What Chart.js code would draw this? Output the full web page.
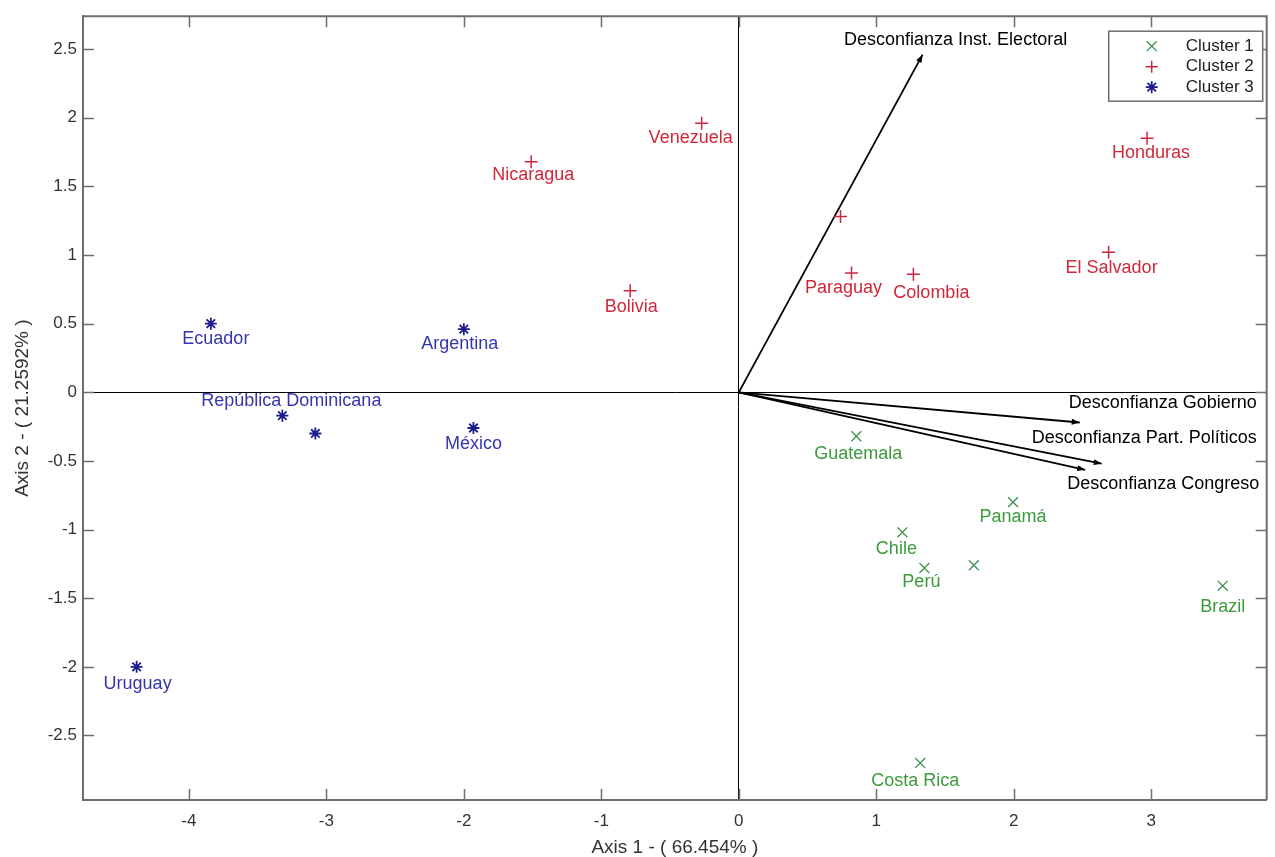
<!DOCTYPE html>
<html>
<head>
<meta charset="utf-8">
<title>Biplot clusters</title>
<script src="https://cdn.jsdelivr.net/npm/chart.js@4.4.1/dist/chart.umd.min.js"></script>
<style>
  html, body { margin: 0; padding: 0; background: #fff; }
  canvas { display: block; }
</style>
</head>
<body>
<canvas id="biplot" width="1275" height="857"></canvas>
<script>
// cluster 1 (green x)
const cluster1Names = ['Guatemala', 'Panamá', 'Chile', 'Perú', '', 'Brazil', 'Costa Rica'];
const cluster1X = [0.855, 1.995, 1.19, 1.35, 1.71, 3.52, 1.32];
const cluster1Y = [-0.32, -0.80, -1.02, -1.28, -1.26, -1.41, -2.70];

// cluster 2 (red +)
const cluster2Names = ['Venezuela', 'Nicaragua', 'Bolivia', '', 'Paraguay', 'Colombia', 'Honduras', 'El Salvador'];
const cluster2X = [-0.27, -1.51, -0.79, 0.74, 0.82, 1.27, 2.97, 2.69];
const cluster2Y = [1.96, 1.68, 0.74, 1.28, 0.87, 0.86, 1.85, 1.02];

// cluster 3 (blue *)
const cluster3Names = ['Ecuador', 'Argentina', 'República Dominicana', '', 'México', 'Uruguay'];
const cluster3X = [-3.84, -2.00, -3.32, -3.08, -1.93, -4.38];
const cluster3Y = [0.50, 0.46, -0.17, -0.30, -0.26, -2.00];

// variable vectors
const varNames = ['Desconfianza Inst. Electoral', 'Desconfianza Gobierno', 'Desconfianza Part. Políticos', 'Desconfianza Congreso'];
const varX = [1.337, 2.48, 2.64, 2.52];
const varY = [2.46, -0.22, -0.52, -0.565];

const xTicks = [-4, -3, -2, -1, 0, 1, 2, 3];
const yTicks = [-2.5, -2, -1.5, -1, -0.5, 0, 0.5, 1, 1.5, 2, 2.5];
const xRange = [-4.77, 3.84];
const yRange = [-2.97, 2.74];

const clusterNames = ['Cluster 1', 'Cluster 2', 'Cluster 3'];

// label placement (pixel shift from the marker)
const labelShift = {
    'Guatemala': [2, 18], 'Panamá': [0, 15], 'Chile': [-6, 17], 'Perú': [-3, 14],
    'Brazil': [0, 21], 'Costa Rica': [-5, 18],
    'Venezuela': [-11, 15], 'Nicaragua': [2, 13], 'Bolivia': [1, 16], 'Paraguay': [-8, 15],
    'Colombia': [18, 19], 'Honduras': [4, 15], 'El Salvador': [3, 16],
    'Ecuador': [5, 15], 'Argentina': [-4, 15], 'República Dominicana': [9, -15],
    'México': [0, 16], 'Uruguay': [1, 17]
};
const varShift = [[33, -15, 'center'], [-11, -19, 'left'], [-70, -26, 'left'], [-18, 14, 'left']];

const FONT = '"Liberation Sans", Arial, sans-serif';
const markerColors = ['#3f8f50', '#c8283c', '#1c1c8c'];
const textColors = ['#3c9a3c', '#d02838', '#3535b0'];
const markerStyles = ['crossRot', 'cross', 'star'];
const markerWidths = [1.3, 1.5, 1.8];
const AXIS_GRAY = '#6e6e6e';

function toPoints(xs, ys) {
    return xs.map((x, i) => ({ x: x, y: ys[i] }));
}

const clusterSets = [
    { names: cluster1Names, pts: toPoints(cluster1X, cluster1Y), radius: 7 },
    { names: cluster2Names, pts: toPoints(cluster2X, cluster2Y), radius: 6.5 },
    { names: cluster3Names, pts: toPoints(cluster3X, cluster3Y), radius: 6 }
];

const datasets = clusterSets.map((c, i) => ({
    label: clusterNames[i],
    data: c.pts,
    pointStyle: markerStyles[i],
    pointRadius: c.radius,
    pointBorderWidth: markerWidths[i],
    borderColor: markerColors[i],
    backgroundColor: 'transparent',
    showLine: false
}));

varNames.forEach((name, i) => {
    datasets.push({
        label: name,
        data: [{ x: 0, y: 0 }, { x: varX[i], y: varY[i] }],
        showLine: true,
        borderColor: '#000',
        borderWidth: 1.8,
        pointRadius: 0,
        fill: false
    });
});

function drawMarker(ctx, style, x, y, r) {
    ctx.beginPath();
    if (style === 'cross' || style === 'star') {
        ctx.moveTo(x - r, y); ctx.lineTo(x + r, y);
        ctx.moveTo(x, y - r); ctx.lineTo(x, y + r);
    }
    if (style === 'crossRot' || style === 'star') {
        const d = r * Math.SQRT1_2;
        ctx.moveTo(x - d, y - d); ctx.lineTo(x + d, y + d);
        ctx.moveTo(x - d, y + d); ctx.lineTo(x + d, y - d);
    }
    ctx.stroke();
}

const biplotDecor = {
    id: 'biplotDecor',
    afterDatasetsDraw(chart) {
        const ctx = chart.ctx;
        const xs = chart.scales.x, ys = chart.scales.y;
        const area = chart.chartArea;
        ctx.save();

        // frame (top/right) and inner ticks
        ctx.strokeStyle = AXIS_GRAY;
        ctx.lineWidth = 2;
        ctx.beginPath();
        ctx.moveTo(area.left, area.top); ctx.lineTo(area.right, area.top);
        ctx.lineTo(area.right, area.bottom);
        ctx.stroke();
        ctx.lineWidth = 1.5;
        ctx.beginPath();
        xTicks.forEach(v => {
            const px = Math.round(xs.getPixelForValue(v)) + 0.5;
            ctx.moveTo(px, area.bottom); ctx.lineTo(px, area.bottom - 11);
            ctx.moveTo(px, area.top); ctx.lineTo(px, area.top + 11);
        });
        yTicks.forEach(v => {
            const py = Math.round(ys.getPixelForValue(v)) + 0.5;
            ctx.moveTo(area.left, py); ctx.lineTo(area.left + 11, py);
            ctx.moveTo(area.right, py); ctx.lineTo(area.right - 11, py);
        });
        ctx.stroke();

        // arrow heads + variable names
        const ox = xs.getPixelForValue(0), oy = ys.getPixelForValue(0);
        ctx.fillStyle = '#000';
        ctx.font = '18px ' + FONT;
        ctx.textBaseline = 'middle';
        varNames.forEach((name, i) => {
            const tx = xs.getPixelForValue(varX[i]), ty = ys.getPixelForValue(varY[i]);
            const ang = Math.atan2(ty - oy, tx - ox);
            const len = 8, half = 3;
            ctx.beginPath();
            ctx.moveTo(tx, ty);
            ctx.lineTo(tx - len * Math.cos(ang) + half * Math.sin(ang), ty - len * Math.sin(ang) - half * Math.cos(ang));
            ctx.lineTo(tx - len * Math.cos(ang) - half * Math.sin(ang), ty - len * Math.sin(ang) + half * Math.cos(ang));
            ctx.closePath();
            ctx.fill();
            const s = varShift[i];
            ctx.textAlign = s[2];
            ctx.fillText(name, tx + s[0], ty + s[1]);
        });

        // country labels
        ctx.textAlign = 'center';
        clusterSets.forEach((c, ci) => {
            ctx.fillStyle = textColors[ci];
            c.names.forEach((name, i) => {
                if (!name) return;
                const sh = labelShift[name] || [0, 16];
                const px = xs.getPixelForValue(c.pts[i].x);
                const py = ys.getPixelForValue(c.pts[i].y);
                ctx.fillText(name, px + sh[0], py + sh[1]);
            });
        });

        // legend box
        const bx = area.right - 158, by = area.top + 15, bw = 154, bh = 70;
        ctx.fillStyle = '#fff';
        ctx.fillRect(bx, by, bw, bh);
        ctx.strokeStyle = AXIS_GRAY;
        ctx.lineWidth = 1.5;
        ctx.strokeRect(bx, by, bw, bh);
        ctx.font = '17px ' + FONT;
        ctx.textAlign = 'left';
        clusterNames.forEach((name, i) => {
            const ry = by + 15 + i * 20.5;
            ctx.strokeStyle = markerColors[i];
            ctx.lineWidth = markerWidths[i];
            drawMarker(ctx, markerStyles[i], bx + 43, ry, i === 0 ? 7 : 6);
            ctx.fillStyle = '#222';
            ctx.fillText(name, bx + 77, ry);
        });
        ctx.restore();
    }
};

const zeroLine = c => (c.tick && c.tick.value === 0 ? '#000' : 'rgba(0,0,0,0)');

new Chart(document.getElementById('biplot'), {
    type: 'scatter',
    data: { datasets: datasets },
    options: {
        responsive: false,
        animation: false,
        events: [],
        layout: { padding: { top: 14, right: 7, left: 0, bottom: 0 } },
        plugins: {
            legend: { display: false },
            tooltip: { enabled: false }
        },
        scales: {
            x: {
                type: 'linear',
                min: xRange[0],
                max: xRange[1],
                afterBuildTicks: s => { s.ticks = xTicks.map(v => ({ value: v })); },
                afterFit: s => { s.height = 57; },
                grid: { color: zeroLine, lineWidth: 1, drawTicks: false },
                border: { display: true, color: AXIS_GRAY, width: 2 },
                ticks: {
                    callback: v => String(v),
                    color: '#333',
                    font: { family: FONT, size: 17 },
                    padding: 11,
                    maxRotation: 0
                },
                title: {
                    display: true,
                    text: 'Axis 1 - ( 66.454% )',
                    color: '#333',
                    font: { family: FONT, size: 19, lineHeight: 1 },
                    padding: { top: 0, bottom: 0 }
                }
            },
            y: {
                type: 'linear',
                min: yRange[0],
                max: yRange[1],
                afterBuildTicks: s => { s.ticks = yTicks.map(v => ({ value: v })); },
                afterFit: s => { s.width = 83; },
                grid: { color: zeroLine, lineWidth: 1, drawTicks: false },
                border: { display: true, color: AXIS_GRAY, width: 2 },
                ticks: {
                    callback: v => String(v),
                    color: '#333',
                    font: { family: FONT, size: 17 },
                    padding: 6
                },
                title: {
                    display: true,
                    text: 'Axis 2 - ( 21.2592% )',
                    color: '#333',
                    font: { family: FONT, size: 19, lineHeight: 1 },
                    padding: { top: 13, bottom: 0 }
                }
            }
        }
    },
    plugins: [biplotDecor]
});
</script>
</body>
</html>
